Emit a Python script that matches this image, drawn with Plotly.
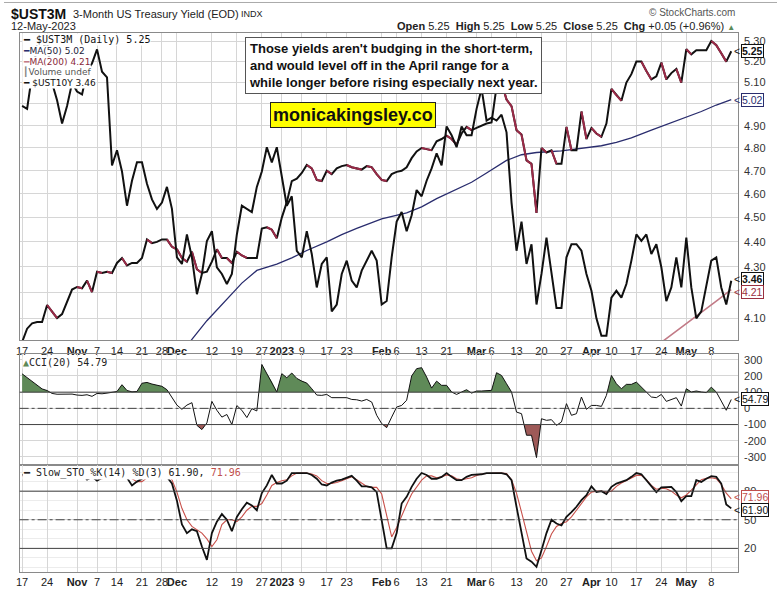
import math
import pandas as pd
import plotly.graph_objects as go

# ---------------- data ----------------
HOLIDAYS = ["2022-11-11", "2022-11-24", "2022-12-26", "2023-01-02",
            "2023-01-16", "2023-02-20", "2023-04-07"]
dates = [d.strftime("%Y-%m-%d") for d in pd.bdate_range("2022-10-17", "2023-05-12")
         if d.strftime("%Y-%m-%d") not in HOLIDAYS]

ust3m = [
    4.01, 4.06, 4.08, 4.085, 4.085, 4.15, 4.125, 4.10, 4.115, 4.165,
    4.21, 4.22, 4.215, 4.245, 4.20, 4.28, 4.275, 4.28, 4.275, 4.315,
    4.335, 4.305, 4.315, 4.315, 4.335, 4.41, 4.395, 4.40, 4.41, 4.41,
    4.38, 4.37, 4.335, 4.32, 4.36, 4.29, 4.275, 4.28, 4.32, 4.37,
    4.335, 4.335, 4.315, 4.36, 4.345, 4.335, 4.335, 4.335, 4.455, 4.46,
    4.45, 4.415, 4.50, 4.565, 4.655, 4.665, 4.69, 4.725, 4.71, 4.66,
    4.655, 4.70, 4.685, 4.71, 4.72, 4.725, 4.715, 4.71, 4.705, 4.72,
    4.715, 4.685, 4.66, 4.655, 4.685, 4.695, 4.70, 4.715, 4.755, 4.785,
    4.80, 4.795, 4.79, 4.83, 4.84, 4.855, 4.84, 4.815, 4.865, 4.895,
    4.88, 4.89, 4.90, 4.91, 4.915, 5.08, 5.10, 5.02, 4.99, 4.88,
    4.86, 4.745, 4.73, 4.52, 4.80, 4.78, 4.79, 4.73, 4.73, 4.895,
    4.79, 4.79, 4.965, 4.84, 4.89, 4.865, 4.85, 4.91, 5.07, 5.04,
    5.015, 5.10, 5.14, 5.20, 5.20, 5.155, 5.115, 5.13, 5.195, 5.115,
    5.145, 5.165, 5.10, 5.26, 5.235, 5.255, 5.255, 5.255, 5.30, 5.28,
    5.24, 5.20, 5.25]

ust10y = [
    4.02, 4.01, 4.13, 4.23, 4.22, 4.25, 4.10, 4.04, 3.96, 4.02,
    4.10, 4.07, 4.06, 4.14, 4.17, 4.22, 4.14, 4.12, 3.82, 3.87,
    3.80, 3.69, 3.77, 3.83, 3.83, 3.76, 3.71, 3.68, 3.70, 3.75,
    3.68, 3.53, 3.51, 3.60, 3.53, 3.42, 3.48, 3.58, 3.61, 3.50,
    3.48, 3.45, 3.48, 3.60, 3.69, 3.68, 3.67, 3.75, 3.80, 3.88,
    3.83, 3.88, 3.79, 3.69, 3.72, 3.55, 3.53, 3.61, 3.54, 3.44,
    3.51, 3.53, 3.37, 3.39, 3.48, 3.52, 3.46, 3.44, 3.49, 3.52,
    3.55, 3.52, 3.39, 3.40, 3.53, 3.64, 3.67, 3.61, 3.66, 3.74,
    3.72, 3.77, 3.81, 3.86, 3.82, 3.95, 3.92, 3.88, 3.95, 3.92,
    3.92, 4.01, 4.08, 3.97, 3.98, 3.97, 3.99, 3.93, 3.70, 3.55,
    3.64, 3.51, 3.57, 3.39, 3.48, 3.59, 3.48, 3.38, 3.38, 3.53,
    3.57, 3.57, 3.55, 3.48, 3.43, 3.35, 3.30, 3.30, 3.41, 3.43,
    3.41, 3.45, 3.52, 3.60, 3.58, 3.60, 3.54, 3.57, 3.50, 3.40,
    3.44, 3.53, 3.44, 3.59, 3.44, 3.35, 3.37, 3.44, 3.52, 3.53,
    3.44, 3.39, 3.46]

ma50_dates = ["2022-12-02", "2022-12-06", "2022-12-09", "2022-12-15", "2022-12-20",
              "2022-12-23", "2022-12-30", "2023-01-05", "2023-01-10", "2023-01-17",
              "2023-01-20", "2023-01-25", "2023-02-01", "2023-02-08", "2023-02-13",
              "2023-02-16", "2023-02-23", "2023-02-28", "2023-03-03", "2023-03-09",
              "2023-03-14", "2023-03-17", "2023-03-24", "2023-03-30", "2023-04-05",
              "2023-04-11", "2023-04-14", "2023-04-20", "2023-04-25", "2023-04-28",
              "2023-05-04", "2023-05-09", "2023-05-12"]
ma50_vals = [3.97, 4.02, 4.09, 4.17, 4.235, 4.285, 4.31, 4.335, 4.365, 4.40,
             4.43, 4.455, 4.495, 4.52, 4.545, 4.58, 4.62, 4.65, 4.69, 4.745,
             4.77, 4.78, 4.787, 4.80, 4.81, 4.825, 4.845, 4.88, 4.905, 4.93,
             4.965, 4.995, 5.02]

ma200_dates = ["2023-04-21", "2023-04-27", "2023-05-03", "2023-05-09", "2023-05-12"]
ma200_vals = [3.995, 4.05, 4.105, 4.165, 4.21]

cci = [
    213, 189, 165, 140, 120, 110, 92, 87, 88, 90,
    88, 82, 80, 84, 74, 92, 90, 94, 99, 104,
    146, 110, 102, 104, 155, 160, 150, 142, 136, 115,
    70, 20, -6, 20, 35, -105, -131, -90, 43, -12,
    -54, -38, -100, 17, -12, -57, -2, -16, 271, 215,
    165, 101, 214, 189, 218, 185, 168, 156, 121, 82,
    80, 86, 66, 66, 66, 66, 55, 53, 45, 55,
    39, -43, -94, -119, -54, 8, 18, 50, 200, 245,
    251, 193, 125, 168, 142, 142, 101, 86, 101, 115,
    94, 107, 107, 107, 111, 220, 203, 152, 101, -23,
    -33, -166, -166, -304, -64, -74, -70, -105, -84, 29,
    -43, -33, 70, -6, 18, 18, 12, 80, 203, 152,
    121, 148, 148, 162, 131, 101, 70, 66, 86, 43,
    53, 66, 14, 121, 101, 107, 101, 97, 131, 101,
    45, -12, 54.79]

sto_k = [
    97, 98, 99, 99, 99, 100, 96, 94, 95, 97,
    99, 99, 98, 92, 95, 91, 94, 97, 96, 97,
    99, 94, 86, 90, 93, 99, 97, 97, 98, 95,
    88, 70, 45, 36, 40, 38, 22, 8, 36, 48,
    56, 50, 38, 53, 61, 68, 65, 60, 78, 86,
    97, 88, 88, 91, 99, 99, 99, 99, 97, 93,
    87, 86, 89, 91, 92, 94, 96, 91, 85, 85,
    84, 79, 50, 20, 20, 36, 67, 74, 84.5, 93,
    99, 97, 93, 93, 95, 99, 95, 91.5, 91.5, 95,
    97, 97, 97.7, 99, 99, 99, 99, 97.7, 91.5, 63.6,
    36, 9.5, 6, 0.7, 18, 36, 50, 46, 44, 53,
    58, 63.6, 70.6, 75.8, 85, 79, 80, 77, 84.5, 88,
    89.7, 91.5, 95, 99, 97.7, 91.5, 85, 79, 84, 84.5,
    84.5, 79, 69.5, 74.8, 74.8, 91.5, 89.7, 93, 95.7, 95,
    88, 66, 61.90]

sto_d = [
    96, 97, 98, 99, 99, 99, 98, 97, 95, 95,
    97, 98, 99, 96, 95, 93, 93, 94, 96, 97,
    97, 96, 93, 90, 90, 94, 96, 98, 97, 97,
    92, 79, 62, 50, 43, 39, 36, 30, 22, 29,
    45, 50, 50, 48, 53, 60, 64, 64, 67, 76,
    86, 89, 91, 92, 96, 99, 99, 99, 98, 96,
    91, 88, 88, 89, 91, 93, 95, 92, 88, 85,
    84, 84, 77, 55, 32, 42, 55, 66, 77, 84.5,
    91.5, 96, 96, 94, 95, 97, 96, 93, 92, 93,
    94, 96.5, 98, 98.5, 99, 99, 99, 98.5, 92, 78,
    58, 36, 17, 7, 10, 22, 35, 43, 46, 48,
    53, 60, 67, 74, 79, 80, 80, 79, 80, 85,
    88.5, 91, 94, 96.5, 96.5, 92, 86, 82, 83, 82.5,
    80, 76, 73, 76, 81, 87, 92, 93.5, 94, 93,
    87, 78, 71.96]

tick_dates = ["2022-10-17", "2022-10-24", "2022-11-01", "2022-11-07", "2022-11-14",
              "2022-11-21", "2022-11-28", "2022-12-01", "2022-12-12", "2022-12-19",
              "2022-12-27", "2023-01-03", "2023-01-09", "2023-01-17", "2023-01-23",
              "2023-02-01", "2023-02-06", "2023-02-13", "2023-02-21", "2023-03-01",
              "2023-03-06", "2023-03-13", "2023-03-20", "2023-03-27", "2023-04-03",
              "2023-04-10", "2023-04-17", "2023-04-24", "2023-05-01", "2023-05-08"]
tick_labels = ["17", "24", "<b>Nov</b>", "7", "14", "21", "28", "<b>Dec</b>", "12", "19",
               "27", "<b>2023</b>", "9", "17", "23", "<b>Feb</b>", "6", "13", "21", "<b>Mar</b>",
               "6", "13", "20", "27", "<b>Apr</b>", "10", "17", "24", "<b>May</b>", "8"]

price_ticks = [4.10, 4.20, 4.30, 4.40, 4.50, 4.60, 4.70, 4.80, 4.90, 5.00, 5.10, 5.20, 5.30]
price_hidden_labels = [4.20, 5.00]   # covered by value tags in the reference
cci_ticks = [300, 200, 100, 0, -100, -200, -300]
sto_ticks = [80, 50, 20]

# ---------------- helpers ----------------
W, H = 777, 589
def PX(x):
    return x / W
def PY(y):
    return 1 - y / H

n = len(dates)
xi = list(range(n))
pos = {d: i for i, d in enumerate(dates)}
tickvals = [pos[d] for d in tick_dates]

BLACK = "#111111"
DOWN_RED = "#9c2a48"
NAVY = "#2a2d6e"
MA200_C = "#c27b87"
GREEN_FILL = "#5f8a58"
RED_FILL = "#9e5a58"
STO_D_C = "#c8504a"
GRID = "#d6d6d6"
FONT = "Liberation Sans, Arial, sans-serif"
MONO = "DejaVu Sans Mono, monospace"

fig = go.Figure()

# main price panel -----------------------------------------------------
fig.add_trace(go.Scatter(x=xi, y=ust10y, mode="lines", yaxis="y4", xaxis="x",
                         line=dict(color=BLACK, width=2), hoverinfo="skip"))
fig.add_trace(go.Scatter(x=[pos[d] for d in ma50_dates], y=ma50_vals, mode="lines",
                         xaxis="x", yaxis="y", line=dict(color=NAVY, width=1.3)))
fig.add_trace(go.Scatter(x=[pos[d] for d in ma200_dates], y=ma200_vals, mode="lines",
                         xaxis="x", yaxis="y", line=dict(color=MA200_C, width=1.6)))
fig.add_trace(go.Scatter(x=xi, y=ust3m, mode="lines", xaxis="x", yaxis="y",
                         line=dict(color=BLACK, width=2)))
dn_x, dn_y = [], []
for i in range(1, n):
    if ust3m[i] < ust3m[i - 1]:
        dn_x += [i - 1, i, None]
        dn_y += [ust3m[i - 1], ust3m[i], None]
fig.add_trace(go.Scatter(x=dn_x, y=dn_y, mode="lines", xaxis="x", yaxis="y",
                         line=dict(color=DOWN_RED, width=2), connectgaps=False))

# CCI panel --------------------------------------------------------------
def band_polys(vals, level, above):
    xs, ys, run = [], [], []
    for i, v in enumerate(vals):
        inside = v > level if above else v < level
        if inside:
            if not run:
                if i > 0:
                    p = vals[i - 1]
                    t = (level - p) / (v - p)
                    run.append((i - 1 + t, level))
                else:
                    run.append((i, level))
            run.append((i, v))
        elif run:
            p = vals[i - 1]
            t = (level - p) / (v - p)
            run.append((i - 1 + t, level))
            xs += [q[0] for q in run] + [None]
            ys += [q[1] for q in run] + [None]
            run = []
    if run:
        run.append((run[-1][0], level))
        xs += [q[0] for q in run] + [None]
        ys += [q[1] for q in run] + [None]
    return xs, ys

gx, gy = band_polys(cci, 100, True)
rx, ry = band_polys(cci, -100, False)
fig.add_trace(go.Scatter(x=gx, y=gy, mode="lines", fill="toself", fillcolor=GREEN_FILL,
                         line=dict(width=0), xaxis="x2", yaxis="y2"))
fig.add_trace(go.Scatter(x=rx, y=ry, mode="lines", fill="toself", fillcolor=RED_FILL,
                         line=dict(width=0), xaxis="x2", yaxis="y2"))
fig.add_trace(go.Scatter(x=xi, y=cci, mode="lines", xaxis="x2", yaxis="y2",
                         line=dict(color=BLACK, width=1)))

# Slow stochastic panel --------------------------------------------------
fig.add_trace(go.Scatter(x=xi, y=sto_d, mode="lines", xaxis="x3", yaxis="y3",
                         line=dict(color=STO_D_C, width=1.1)))
fig.add_trace(go.Scatter(x=xi, y=sto_k, mode="lines", xaxis="x3", yaxis="y3",
                         line=dict(color=BLACK, width=1.8)))

# ---------------- layout ----------------
XDOM = [PX(15.7), PX(737.7)]
XR = [-0.5, 143.33]
main_dom = [PY(340), PY(32)]
cci_dom = [PY(465), PY(354)]
sto_dom = [PY(572), PY(465)]

xcommon = dict(domain=XDOM, range=XR, tickmode="array", tickvals=tickvals, ticktext=tick_labels,
               showgrid=True, gridcolor=GRID, gridwidth=1, zeroline=False, ticks="",
               tickangle=0, showline=True, mirror=True, linecolor="#8a8a8a", linewidth=1,
               tickfont=dict(family=FONT, size=11, color="#222"))
ycommon = dict(side="right", showgrid=True, gridcolor=GRID, zeroline=False, ticks="",
               showline=True, mirror=True, linecolor="#8a8a8a", linewidth=1,
               tickfont=dict(family=FONT, size=11, color="#333"), ticklabelstandoff=3)

layout = dict(
    width=W, height=H, margin=dict(l=0, r=0, t=0, b=0),
    paper_bgcolor="white", plot_bgcolor="white", showlegend=False,
    font=dict(family=FONT, size=11, color="#222"),
    xaxis=dict(xcommon, anchor="y"),
    xaxis2=dict(xcommon, anchor="y2", matches="x", showticklabels=False),
    xaxis3=dict(xcommon, anchor="y3", matches="x"),
    yaxis=dict(ycommon, domain=main_dom, type="log",
               range=[math.log10(4.016), math.log10(5.34)],
               tickvals=price_ticks,
               ticktext=["" if v in price_hidden_labels else "%.2f" % v for v in price_ticks],
               anchor="x"),
    yaxis4=dict(overlaying="y", type="log", range=[math.log10(3.287), math.log10(4.28)],
                visible=False, anchor="x"),
    yaxis2=dict(ycommon, domain=cci_dom, range=[-351, 333], tickvals=cci_ticks,
                ticktext=[str(v) for v in cci_ticks], anchor="x2"),
    yaxis3=dict(ycommon, domain=sto_dom, range=[-4.8, 107.2], tickvals=sto_ticks,
                ticktext=[str(v) for v in sto_ticks], anchor="x3",
                minor=dict(tickvals=[0, 10, 30, 40, 60, 70, 90, 100], showgrid=True,
                           gridcolor="#ececec")),
)
fig.update_layout(**layout)

# reference lines in CCI / STO panels
shapes = []
for lvl, dash in [(100, "solid"), (-100, "solid"), (0, "dashdot")]:
    shapes.append(dict(type="line", xref="x2 domain", x0=0, x1=1, yref="y2", y0=lvl, y1=lvl,
                       line=dict(color="#444", width=1, dash=dash)))
for lvl, dash in [(80, "solid"), (20, "solid"), (50, "dashdot")]:
    shapes.append(dict(type="line", xref="x3 domain", x0=0, x1=1, yref="y3", y0=lvl, y1=lvl,
                       line=dict(color="#444", width=1, dash=dash)))
shapes.append(dict(type="line", xref="paper", yref="paper", x0=0, x1=1, y0=PY(1.5), y1=PY(1.5),
                   line=dict(color="#aaaaaa", width=1)))
fig.update_layout(shapes=shapes)

ann = []
def txt(x, y, text, size=11, family=FONT, color="#222", xanchor="left", yanchor="middle", **kw):
    ann.append(dict(xref="paper", yref="paper", x=PX(x), y=PY(y), text=text, showarrow=False,
                    xanchor=xanchor, yanchor=yanchor, font=dict(size=size, family=family, color=color), **kw))

# header
txt(5, 13, "<b>$UST3M</b>", size=14, color="#111")
txt(67, 13, "3-Month US Treasury Yield (EOD)", size=11, color="#222")
txt(236, 13, "INDX", size=9, color="#222")
txt(5, 25, "12-May-2023", size=11, color="#222")
txt(737, 12, "\u00a9 StockCharts.com", size=10, color="#555", xanchor="right")
txt(737, 25, "<b>Open</b> 5.25  <b>High</b> 5.25  <b>Low</b> 5.25  <b>Close</b> 5.25  "
             "<b>Chg</b> +0.05 (+0.96%) <span style='color:#5a8a5a;font-size:8px'>\u25b2</span>",
    size=11, color="#222", xanchor="right")

# main legend (white background rows)
leg = [(38.7, "<b>\u2501</b> $UST3M (Daily) 5.25", MONO, 10, "#111"),
       (50, "<span style='color:%s'>\u2501</span>MA(50) 5.02" % NAVY, "DejaVu Sans", 9, "#1c1c3a"),
       (61, "<span style='color:%s'>\u2501</span>MA(200) 4.21" % MA200_C, "DejaVu Sans", 9, "#8a2a3a"),
       (71.5, "<span style='color:#888'>\u2503</span>Volume undef", "DejaVu Sans", 9, "#555"),
       (82, "<b>\u2501</b> $UST10Y 3.46", "DejaVu Sans", 9, "#111")]
for y, t, fam, sz, col in leg:
    txt(18, y, t, size=sz, family=fam, color=col, bgcolor="white", borderpad=0)

# commentary box
ann.append(dict(xref="paper", yref="paper", x=PX(242), y=PY(36), xanchor="left", yanchor="top",
                text="<b>Those yields aren't budging in the short-term,<br>"
                     "and would level off in the April range for a<br>"
                     "while longer before rising especially next year.</b>",
                align="left", showarrow=False, bgcolor="white", bordercolor="#555",
                borderwidth=1, borderpad=3, font=dict(family=FONT, size=13, color="#111")))
ann.append(dict(xref="paper", yref="paper", x=PX(267), y=PY(101), xanchor="left", yanchor="top",
                text="<b>monicakingsley.co</b>", showarrow=False, bgcolor="#ffff00",
                bordercolor="#222", borderwidth=1, borderpad=2,
                font=dict(family=FONT, size=18, color="#111")))

# panel labels
txt(18, 362, "<span style='color:%s'>\u25b2</span>CCI(20) 54.79" % GREEN_FILL, size=10, family=MONO,
    color="#222", bgcolor="white", borderpad=0)
txt(18, 473, "<b>\u2501</b> Slow_STO %K(14) %D(3) 61.90, <span style='color:#c0504d'>71.96</span>",
    size=10, family=MONO, color="#222", bgcolor="white", borderpad=0)

# value tags on the right axis (small vertical nudges keep stacked tags apart)
def tag(yref, yval, text, color, bold=False, shift=0):
    t = "<b>%s</b>" % text if bold else text
    ann.append(dict(xref="paper", x=PX(741), xanchor="left", yref=yref, y=yval, yanchor="middle",
                    text=t, showarrow=False, bgcolor="white", bordercolor=color, borderwidth=1,
                    borderpad=0, yshift=shift, font=dict(family=FONT, size=10.5, color=color)))
    ann.append(dict(xref="paper", x=PX(741.5), xanchor="right", yref=yref, y=yval, yanchor="middle",
                    text="<", showarrow=False, yshift=shift,
                    font=dict(family=FONT, size=10.5, color=color)))

tag("y", math.log10(ust3m[-1]), "%.2f" % ust3m[-1], "#111", True)
tag("y", math.log10(ma50_vals[-1]), "%.2f" % ma50_vals[-1], NAVY)
tag("y4", math.log10(ust10y[-1]), "%.2f" % ust10y[-1], "#111", True, shift=2)
tag("y", math.log10(ma200_vals[-1]), "%.2f" % ma200_vals[-1], "#9a3040", shift=-2)
tag("y2", cci[-1], "%.2f" % cci[-1], "#111")
tag("y3", sto_d[-1], "%.2f" % sto_d[-1], "#c0504d", shift=2)
tag("y3", sto_k[-1], "%.2f" % sto_k[-1], "#111", shift=-2)

fig.update_layout(annotations=ann)
fig.write_html("out.html", config={"displayModeBar": False},
               post_script="document.body.style.margin='0';document.body.style.overflow='hidden';")
